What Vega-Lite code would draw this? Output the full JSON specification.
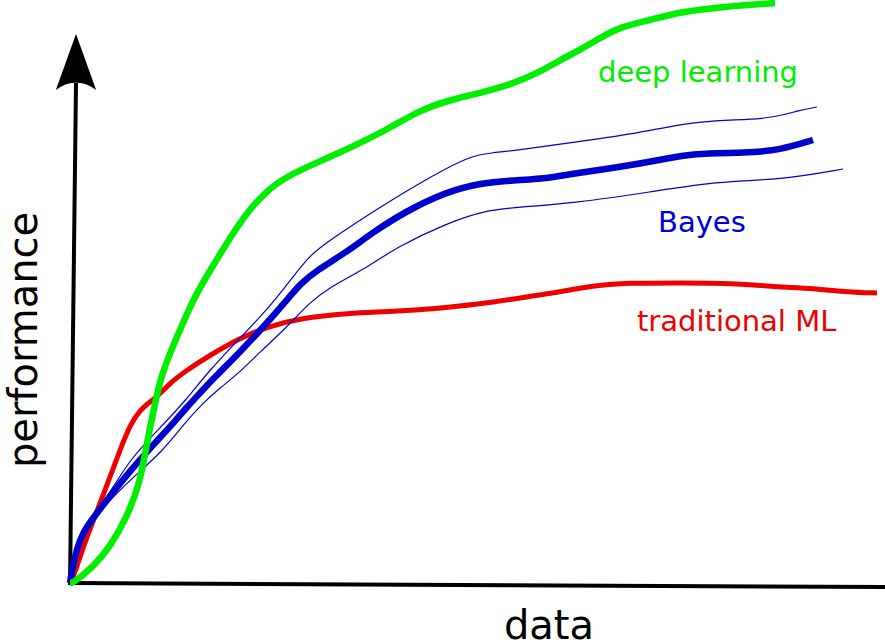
{
  "$schema": "https://vega.github.io/schema/vega-lite/v6.json",
  "width": 885,
  "height": 643,
  "autosize": "none",
  "padding": 0,
  "background": "white",
  "config": {"view": {"stroke": null}},
  "datasets": {
    "curves": [
      {"s":"red","x":0,"y":0},{"s":"red","x":4,"y":8},{"s":"red","x":10,"y":26},{"s":"red","x":17,"y":46},{"s":"red","x":27,"y":72},{"s":"red","x":40,"y":106},{"s":"red","x":50,"y":133},{"s":"red","x":60,"y":158},{"s":"red","x":70,"y":173},{"s":"red","x":80,"y":181},{"s":"red","x":90,"y":189},{"s":"red","x":100,"y":200},{"s":"red","x":117,"y":213},{"s":"red","x":137,"y":226},{"s":"red","x":170,"y":245},{"s":"red","x":197,"y":256},{"s":"red","x":230,"y":265},{"s":"red","x":280,"y":270},{"s":"red","x":313,"y":271},{"s":"red","x":350,"y":273},{"s":"red","x":380,"y":276},{"s":"red","x":410,"y":279},{"s":"red","x":450,"y":285},{"s":"red","x":490,"y":291},{"s":"red","x":510,"y":295},{"s":"red","x":530,"y":298},{"s":"red","x":560,"y":300},{"s":"red","x":610,"y":300},{"s":"red","x":660,"y":300},{"s":"red","x":710,"y":296},{"s":"red","x":750,"y":294},{"s":"red","x":777,"y":291},{"s":"red","x":807,"y":290},

      {"s":"bayes","x":0,"y":0},{"s":"bayes","x":2,"y":13},{"s":"bayes","x":7,"y":35},{"s":"bayes","x":13,"y":50},{"s":"bayes","x":20,"y":61},{"s":"bayes","x":40,"y":87},{"s":"bayes","x":60,"y":112},{"s":"bayes","x":83,"y":138},{"s":"bayes","x":100,"y":156},{"s":"bayes","x":117,"y":176},{"s":"bayes","x":130,"y":190},{"s":"bayes","x":143,"y":204},{"s":"bayes","x":170,"y":231},{"s":"bayes","x":197,"y":260},{"s":"bayes","x":217,"y":283},{"s":"bayes","x":230,"y":299},{"s":"bayes","x":247,"y":313},{"s":"bayes","x":277,"y":331},{"s":"bayes","x":303,"y":351},{"s":"bayes","x":343,"y":376},{"s":"bayes","x":387,"y":395},{"s":"bayes","x":420,"y":401},{"s":"bayes","x":450,"y":403},{"s":"bayes","x":480,"y":405},{"s":"bayes","x":500,"y":409},{"s":"bayes","x":550,"y":416},{"s":"bayes","x":590,"y":423},{"s":"bayes","x":623,"y":430},{"s":"bayes","x":677,"y":430},{"s":"bayes","x":710,"y":433},{"s":"bayes","x":743,"y":443},

      {"s":"upper","x":0,"y":0},{"s":"upper","x":3,"y":18},{"s":"upper","x":8,"y":40},{"s":"upper","x":20,"y":63},{"s":"upper","x":40,"y":90},{"s":"upper","x":60,"y":124},{"s":"upper","x":90,"y":155},{"s":"upper","x":117,"y":184},{"s":"upper","x":137,"y":210},{"s":"upper","x":170,"y":245},{"s":"upper","x":197,"y":273},{"s":"upper","x":223,"y":306},{"s":"upper","x":240,"y":328},{"s":"upper","x":260,"y":343},{"s":"upper","x":310,"y":376},{"s":"upper","x":360,"y":406},{"s":"upper","x":400,"y":427},{"s":"upper","x":420,"y":430},{"s":"upper","x":450,"y":433},{"s":"upper","x":505,"y":441},{"s":"upper","x":570,"y":450},{"s":"upper","x":630,"y":463},{"s":"upper","x":697,"y":463},{"s":"upper","x":730,"y":473},{"s":"upper","x":747,"y":476},

      {"s":"lower","x":0,"y":0},{"s":"lower","x":4,"y":20},{"s":"lower","x":12,"y":43},{"s":"lower","x":22,"y":60},{"s":"lower","x":35,"y":78},{"s":"lower","x":60,"y":103},{"s":"lower","x":93,"y":132},{"s":"lower","x":113,"y":158},{"s":"lower","x":133,"y":180},{"s":"lower","x":150,"y":195},{"s":"lower","x":170,"y":211},{"s":"lower","x":190,"y":231},{"s":"lower","x":217,"y":256},{"s":"lower","x":240,"y":281},{"s":"lower","x":260,"y":296},{"s":"lower","x":293,"y":313},{"s":"lower","x":327,"y":336},{"s":"lower","x":377,"y":360},{"s":"lower","x":417,"y":373},{"s":"lower","x":450,"y":376},{"s":"lower","x":505,"y":380},{"s":"lower","x":580,"y":391},{"s":"lower","x":650,"y":402},{"s":"lower","x":710,"y":403},{"s":"lower","x":773,"y":414},

      {"s":"green","x":0,"y":0},{"s":"green","x":3,"y":0},{"s":"green","x":23,"y":16},{"s":"green","x":40,"y":36},{"s":"green","x":57,"y":66},{"s":"green","x":70,"y":100},{"s":"green","x":77,"y":140},{"s":"green","x":83,"y":170},{"s":"green","x":90,"y":203},{"s":"green","x":100,"y":230},{"s":"green","x":110,"y":253},{"s":"green","x":123,"y":283},{"s":"green","x":135,"y":304},{"s":"green","x":153,"y":334},{"s":"green","x":180,"y":376},{"s":"green","x":207,"y":401},{"s":"green","x":230,"y":413},{"s":"green","x":260,"y":426},{"s":"green","x":290,"y":440},{"s":"green","x":320,"y":455},{"s":"green","x":350,"y":473},{"s":"green","x":380,"y":483},{"s":"green","x":410,"y":490},{"s":"green","x":440,"y":498},{"s":"green","x":470,"y":511},{"s":"green","x":490,"y":523},{"s":"green","x":510,"y":533},{"s":"green","x":530,"y":545},{"s":"green","x":550,"y":556},{"s":"green","x":580,"y":563},{"s":"green","x":610,"y":571},{"s":"green","x":650,"y":576},{"s":"green","x":705,"y":580}
    ],
    "axes": [
      {"s":"yaxis","x":0,"y":-2},{"s":"yaxis","x":6,"y":500},
      {"s":"xaxis","x":-2,"y":0},{"s":"xaxis","x":815,"y":-4}
    ],
    "arrow": [{"x":6,"y":521}],
    "labels": [
      {"t":"deep learning","x":528,"y":501,"c":"#00ee00"},
      {"t":"Bayes","x":588,"y":351,"c":"#0000dd"},
      {"t":"traditional ML","x":567,"y":252,"c":"#ee0000"}
    ],
    "titles": [
      {"t":"data","x":479,"y":-56,"a":0},
      {"t":"performance","x":-33,"y":243,"a":270}
    ]
  },
  "layer": [
    {
      "data": {"name": "axes"},
      "mark": {"type": "line", "color": "black", "strokeWidth": 4, "strokeCap": "butt"},
      "encoding": {
        "x": {"field": "x", "type": "quantitative", "axis": null, "scale": {"domain": [-70, 815], "nice": false, "zero": false}},
        "y": {"field": "y", "type": "quantitative", "axis": null, "scale": {"domain": [-60, 583], "nice": false, "zero": false}},
        "detail": {"field": "s"}
      }
    },
    {
      "data": {"name": "arrow"},
      "mark": {"type": "point", "filled": true, "color": "black", "opacity": 1, "size": 3136, "strokeWidth": 0, "shape": "M0,-1 L0.72,1 Q0.35,0.72 0,0.74 Q-0.35,0.72 -0.72,1 Z"},
      "encoding": {
        "x": {"field": "x", "type": "quantitative"},
        "y": {"field": "y", "type": "quantitative"}
      }
    },
    {
      "data": {"name": "curves"},
      "transform": [{"filter": "datum.s === 'red'"}],
      "mark": {"type": "line", "color": "#ee0000", "strokeWidth": 5, "interpolate": "basis", "strokeCap": "butt"},
      "encoding": {
        "x": {"field": "x", "type": "quantitative"},
        "y": {"field": "y", "type": "quantitative"}
      }
    },
    {
      "data": {"name": "curves"},
      "transform": [{"filter": "datum.s === 'upper' || datum.s === 'lower'"}],
      "mark": {"type": "line", "color": "#0000cc", "strokeWidth": 1.2, "interpolate": "basis"},
      "encoding": {
        "x": {"field": "x", "type": "quantitative"},
        "y": {"field": "y", "type": "quantitative"},
        "detail": {"field": "s"}
      }
    },
    {
      "data": {"name": "curves"},
      "transform": [{"filter": "datum.s === 'bayes'"}],
      "mark": {"type": "line", "color": "#0000cc", "strokeWidth": 6.5, "interpolate": "basis", "strokeCap": "butt"},
      "encoding": {
        "x": {"field": "x", "type": "quantitative"},
        "y": {"field": "y", "type": "quantitative"}
      }
    },
    {
      "data": {"name": "curves"},
      "transform": [{"filter": "datum.s === 'green'"}],
      "mark": {"type": "line", "color": "#00ee00", "strokeWidth": 6.5, "interpolate": "basis", "strokeCap": "butt"},
      "encoding": {
        "x": {"field": "x", "type": "quantitative"},
        "y": {"field": "y", "type": "quantitative"}
      }
    },
    {
      "data": {"name": "labels"},
      "mark": {"type": "text", "font": "DejaVu Sans", "baseline": "alphabetic", "align": "left", "fontSize": 29},
      "encoding": {
        "x": {"field": "x", "type": "quantitative"},
        "y": {"field": "y", "type": "quantitative"},
        "text": {"field": "t"},
        "color": {"field": "c", "type": "nominal", "scale": null}
      }
    },
    {
      "data": {"name": "titles"},
      "mark": {"type": "text", "font": "DejaVu Sans", "baseline": "alphabetic", "align": "center", "fontSize": 40, "color": "black"},
      "encoding": {
        "x": {"field": "x", "type": "quantitative"},
        "y": {"field": "y", "type": "quantitative"},
        "text": {"field": "t"},
        "angle": {"field": "a", "type": "quantitative", "scale": null}
      }
    }
  ]
}
